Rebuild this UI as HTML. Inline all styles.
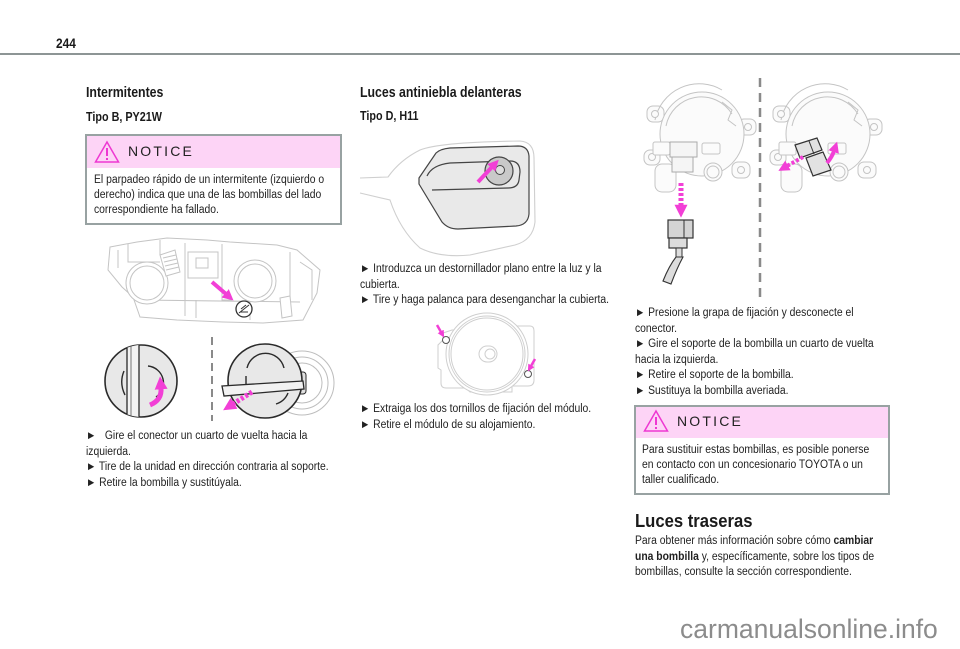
<!DOCTYPE html>
<html><head><meta charset="utf-8">
<style>
*{margin:0;padding:0;box-sizing:border-box}
html,body{width:960px;height:649px;background:#fff;overflow:hidden}
body{position:relative;font-family:"Liberation Sans",Arial,sans-serif;color:#222}
.t{position:absolute;white-space:nowrap;transform-origin:0 0}
.b{font-size:11.5px;line-height:15.6px;transform:scaleX(0.9)}
.nb{font-size:11.5px;line-height:15px;transform:scaleX(0.9)}
.h1{font-size:14.5px;font-weight:bold;line-height:16px;transform:scaleX(0.85);color:#1a1a1a}
.h2{font-size:13px;font-weight:bold;line-height:16px;transform:scaleX(0.83);color:#1a1a1a}
.box{position:absolute;border:2px solid #98a2a2;background:#fff}
.pk{position:absolute;background:#fdd4f6}
.nt{font-size:14px;line-height:16px;letter-spacing:2.2px;color:#222}
svg{position:absolute;left:0;top:0}
</style></head>
<body>
<div style="position:absolute;left:0;top:53px;width:960px;height:2px;background:#8d9595"></div>
<div class="t" style="left:56px;top:35px;font-size:14px;font-weight:bold;line-height:16px;transform:scaleX(0.85);color:#1a1a1a">244</div>

<!-- left column -->
<div class="t h1" style="left:86px;top:84.5px">Intermitentes</div>
<div class="t h2" style="left:86px;top:109px">Tipo B, PY21W</div>
<div class="box" style="left:85px;top:134px;width:257px;height:91px"></div>
<div class="pk" style="left:87px;top:136px;width:253px;height:32px"></div>
<div class="t nt" style="left:128px;top:142.8px">NOTICE</div>
<div class="t nb" style="left:93.5px;top:173px">El parpadeo rápido de un intermitente (izquierdo o<br>derecho) indica que una de las bombillas del lado<br>correspondiente ha fallado.</div>
<div class="t b" style="left:86px;top:429px">►&nbsp;&nbsp; Gire el conector un cuarto de vuelta hacia la<br>izquierda.<br>► Tire de la unidad en dirección contraria al soporte.<br>► Retire la bombilla y sustitúyala.</div>

<!-- middle column -->
<div class="t h1" style="left:360px;top:85.3px">Luces antiniebla delanteras</div>
<div class="t h2" style="left:360px;top:108px">Tipo D, H11</div>
<div class="t b" style="left:360px;top:262px">► Introduzca un destornillador plano entre la luz y la<br>cubierta.<br>► Tire y haga palanca para desenganchar la cubierta.</div>
<div class="t b" style="left:360px;top:402px">► Extraiga los dos tornillos de fijación del módulo.<br>► Retire el módulo de su alojamiento.</div>

<!-- right column -->
<div class="t b" style="left:635px;top:306px">► Presione la grapa de fijación y desconecte el<br>conector.<br>► Gire el soporte de la bombilla un cuarto de vuelta<br>hacia la izquierda.<br>► Retire el soporte de la bombilla.<br>► Sustituya la bombilla averiada.</div>
<div class="box" style="left:634px;top:405px;width:256px;height:90px"></div>
<div class="pk" style="left:636px;top:407px;width:252px;height:31px"></div>
<div class="t nt" style="left:677px;top:412.8px">NOTICE</div>
<div class="t nb" style="left:641.7px;top:443px">Para sustituir estas bombillas, es posible ponerse<br>en contacto con un concesionario TOYOTA o un<br>taller cualificado.</div>
<div class="t" style="left:635px;top:509.5px;font-size:18.5px;font-weight:bold;line-height:22px;transform:scaleX(0.9);color:#1a1a1a">Luces traseras</div>
<div class="t b" style="left:635px;top:534px">Para obtener más información sobre cómo <b>cambiar</b><br><b>una bombilla</b> y, específicamente, sobre los tipos de<br>bombillas, consulte la sección correspondiente.</div>

<div class="t" style="left:680px;top:614px;font-size:26.5px;line-height:30px;color:#8c8c8c">carmanualsonline.info</div>

<svg width="960" height="649" viewBox="0 0 960 649">
<defs>
<marker id="ah" viewBox="0 0 10 10" refX="1" refY="5" markerWidth="11" markerHeight="11" markerUnits="userSpaceOnUse" orient="auto"><path d="M0,0 L10,5 L0,10z" fill="#f23fd6"/></marker>
<marker id="ah2" viewBox="0 0 10 10" refX="1" refY="5" markerWidth="13" markerHeight="13" markerUnits="userSpaceOnUse" orient="auto"><path d="M0,0 L10,5 L0,10z" fill="#f23fd6"/></marker>
<marker id="ah3" viewBox="0 0 10 10" refX="1" refY="5" markerWidth="7" markerHeight="7" markerUnits="userSpaceOnUse" orient="auto"><path d="M0,0 L10,5 L0,10z" fill="#f23fd6"/></marker>
<clipPath id="cl1"><circle cx="141" cy="381" r="36"/></clipPath>
<g id="lamp" fill="#fbfbfb" stroke="#c4c4c4" stroke-width="1">
  <rect x="-55" y="-28" width="17" height="16" rx="6"/>
  <rect x="36" y="-15" width="18" height="16" rx="6"/>
  <rect x="-58" y="16" width="16" height="15" rx="6"/>
  <rect x="30" y="28" width="18" height="16" rx="6"/>
  <rect x="-47" y="30" width="21" height="28" rx="7"/>
  <circle cx="0" cy="0" r="42"/>
  <path d="M-36,-8 A36,36 0 0,1 30,-20" fill="none"/>
  <path d="M-47,-14 A45,45 0 0,1 20,-44" fill="none"/>
  <circle cx="-47" cy="-20" r="3.5"/>
  <circle cx="46" cy="-7" r="3.5"/>
  <circle cx="-50" cy="23" r="3.5"/>
  <circle cx="39" cy="36" r="3.5"/>
  <path d="M20,-32 L30,-24 L26,-14 L34,-8" fill="none"/>
  <rect x="-49" y="8" width="17" height="13" rx="2"/>
  <rect x="0" y="9" width="18" height="11" rx="2"/>
  <circle cx="11" cy="38" r="9"/>
  <circle cx="11" cy="38" r="6" fill="none"/>
</g>
</defs>

<!-- left headlamp assembly -->
<g fill="#fff" stroke="#c4c4c4" stroke-width="1">
  <path d="M110,247 L137,242 L167,238 L207,240 L230,242 L277,245 L297,250 L320,270 L317,293 L303,320 L263,323 L223,322 L177,320 L140,317 L133,297 L122,287 L108,270 Z"/>
  <path d="M118,250 L118,268 M128,244 L128,262 L160,262 M185,243 L185,316 M222,244 L222,300 L232,300 M290,252 L290,316 M300,262 L312,270 L312,300 M140,300 L300,302 M160,240 L160,255"/>
  <rect x="188" y="252" width="30" height="26" />
  <rect x="196" y="258" width="12" height="10"/>
  <circle cx="147" cy="283" r="21"/>
  <circle cx="147" cy="283" r="17"/>
  <circle cx="255" cy="281" r="21"/>
  <circle cx="255" cy="281" r="17"/>
  <path d="M160,255 L175,250 L180,272 L166,276 Z"/>
  <path d="M163,258 L176,255 M164,262 L177,259 M165,266 L178,263 M166,270 L179,267"/>
  <path d="M280,298 L290,296 L292,316 L282,318 Z"/>
  <path d="M196,300 L196,318 M250,302 L250,320"/>
</g>
<circle cx="244" cy="309" r="8" fill="#fff" stroke="#333" stroke-width="1.3"/>
<path d="M239,313 L249,305 M241,309 L246,305 M240,312 L248,312" stroke="#333" stroke-width="1"/>
<line x1="212" y1="282" x2="226" y2="294" stroke="#f23fd6" stroke-width="4" marker-end="url(#ah)"/>

<!-- dashed divider left -->
<line x1="212" y1="337" x2="212" y2="421" stroke="#8a8a8a" stroke-width="2" stroke-dasharray="8 5"/>

<!-- left cap -->
<circle cx="141" cy="381" r="36" fill="#e8e8e8" stroke="#2a2a2a" stroke-width="1.6"/>
<g clip-path="url(#cl1)">
  <rect x="127" y="340" width="12" height="82" fill="#f3f3f3" stroke="#2a2a2a" stroke-width="1.3"/>
  <line x1="131" y1="340" x2="131" y2="422" stroke="#555" stroke-width="0.8"/>
</g>
<path d="M148,366 A17,17 0 0,1 156,397" fill="none" stroke="#2a2a2a" stroke-width="1.4"/>
<path d="M124,371 Q119,383 125,395" fill="none" stroke="#2a2a2a" stroke-width="1.4"/>
<path d="M150,405 Q162,400 161,388" fill="none" stroke="#f23fd6" stroke-width="5" marker-end="url(#ah2)"/>

<!-- right cap -->
<g fill="none" stroke="#bdbdbd" stroke-width="1">
  <circle cx="302" cy="383" r="32" fill="#fff"/>
  <circle cx="302" cy="383" r="26"/>
  <circle cx="302" cy="383" r="20"/>
</g>
<rect x="296" y="372" width="10" height="22" rx="3" fill="#e0e0e0" stroke="#2a2a2a" stroke-width="1"/>
<circle cx="265" cy="381" r="37" fill="#e8e8e8" stroke="#2a2a2a" stroke-width="1.6"/>
<path d="M247,368 A19,19 0 0,1 284,368" fill="none" stroke="#2a2a2a" stroke-width="1.4"/>
<path d="M288,393 A19,19 0 0,1 276,404" fill="none" stroke="#2a2a2a" stroke-width="1.4"/>
<path d="M246,376 L246,384" fill="none" stroke="#2a2a2a" stroke-width="1.4"/>
<polygon points="222,386 303,381 304,389 224,396" fill="#f2f2f2" stroke="#2a2a2a" stroke-width="1.3"/>
<line x1="252" y1="392" x2="233" y2="404" stroke="#f23fd6" stroke-width="5" stroke-dasharray="3 2" marker-end="url(#ah2)"/>

<!-- middle fog cover -->
<path d="M360,178 L388,177 Q400,160 420,150 Q440,142 520,141 Q534,142 534,158 L535,222 Q533,240 515,245 L470,255 Q440,258 420,248 Q400,230 390,200 L360,193" fill="#fff" stroke="#cfcfcf" stroke-width="1.1"/>
<path d="M419,178 L436,153 Q440,149 450,148 L518,146 Q528,146 529,156 L529,214 Q528,225 516,226 L458,229 Q448,229 442,222 L419,184 Z" fill="#e9e9e9" stroke="#444" stroke-width="1.2"/>
<path d="M427,176 Q432,165 450,163 L510,161 Q520,161 520,172 L519,180 Q518,188 508,188 L432,190" fill="none" stroke="#444" stroke-width="1.2"/>
<circle cx="499" cy="171" r="14" fill="#c9c9c9" stroke="#444" stroke-width="1.2"/>
<circle cx="500" cy="170" r="4.5" fill="#ddd" stroke="#444" stroke-width="1"/>
<line x1="478" y1="182" x2="492" y2="167" stroke="#f23fd6" stroke-width="4" marker-end="url(#ah)"/>

<!-- middle module -->
<g fill="#fff" stroke="#cfcfcf" stroke-width="1">
  <path d="M443,333 L452,330 L505,330 L507,326 L530,326 Q534,326 534,331 L534,380 Q534,386 528,386 L512,386 L512,392 L470,392 L466,388 L446,388 Q441,388 441,383 L441,370 L438,368 L438,345 L443,340 Z"/>
  <circle cx="487" cy="354" r="41"/>
  <circle cx="487" cy="354" r="38"/>
  <circle cx="487" cy="354" r="36"/>
  <rect x="479" y="346" width="18" height="16" rx="8"/>
  <circle cx="490" cy="354" r="5"/>
</g>
<circle cx="446" cy="340" r="3.5" fill="#fff" stroke="#555" stroke-width="1"/>
<circle cx="528" cy="374" r="3.5" fill="#fff" stroke="#555" stroke-width="1"/>
<line x1="437" y1="325" x2="441" y2="332" stroke="#f23fd6" stroke-width="2.5" marker-end="url(#ah3)"/>
<line x1="535" y1="359" x2="531" y2="366" stroke="#f23fd6" stroke-width="2.5" marker-end="url(#ah3)"/>

<!-- right column lamps -->
<use href="#lamp" transform="translate(702,134)"/>
<rect x="670" y="142" width="27" height="15" fill="#f5f5f5" stroke="#aaa" stroke-width="1"/>
<rect x="672" y="157" width="21" height="15" fill="#f5f5f5" stroke="#aaa" stroke-width="1"/>
<line x1="681" y1="183" x2="681" y2="206" stroke="#f23fd6" stroke-width="5" stroke-dasharray="3 2" marker-end="url(#ah2)"/>
<rect x="668" y="220" width="25" height="18" fill="#d4d4d4" stroke="#333" stroke-width="1.2"/>
<line x1="684" y1="220" x2="684" y2="238" stroke="#333" stroke-width="1"/>
<rect x="669" y="238" width="18" height="10" fill="#ddd" stroke="#333" stroke-width="1.2"/>
<rect x="676" y="248" width="6" height="9" fill="#ddd" stroke="#333" stroke-width="1"/>
<path d="M676,257 Q669,266 663,281 L671,284 Q677,268 683,257 Z" fill="#ddd" stroke="#333" stroke-width="1.1"/>

<line x1="760" y1="78" x2="760" y2="301" stroke="#8a8a8a" stroke-width="2.5" stroke-dasharray="9 6"/>

<use href="#lamp" transform="translate(828,134)"/>
<polygon points="795,145 817,138 822,150 800,158" fill="#e2e2e2" stroke="#333" stroke-width="1.2"/>
<polygon points="806,158 823,152 831,170 813,176" fill="#e2e2e2" stroke="#333" stroke-width="1.2"/>
<line x1="809" y1="141" x2="814" y2="154" stroke="#333" stroke-width="1"/>
<line x1="803" y1="157" x2="787" y2="166" stroke="#f23fd6" stroke-width="4" stroke-dasharray="3 2" marker-end="url(#ah)"/>
<path d="M827,163 Q832,157 834,151" fill="none" stroke="#f23fd6" stroke-width="4" marker-end="url(#ah)"/>

<!-- notice triangles -->
<g fill="none" stroke="#ee38d2" stroke-width="1.5">
  <path d="M107,142 L95.5,162 L118.5,162 Z"/>
  <path d="M656,411 L644.5,431 L667.5,431 Z"/>
</g>
<g fill="#ee38d2">
  <rect x="106" y="148" width="2" height="8"/><rect x="106" y="158" width="2" height="2"/>
  <rect x="655" y="417" width="2" height="8"/><rect x="655" y="427" width="2" height="2"/>
</g>
</svg>
</body></html>
